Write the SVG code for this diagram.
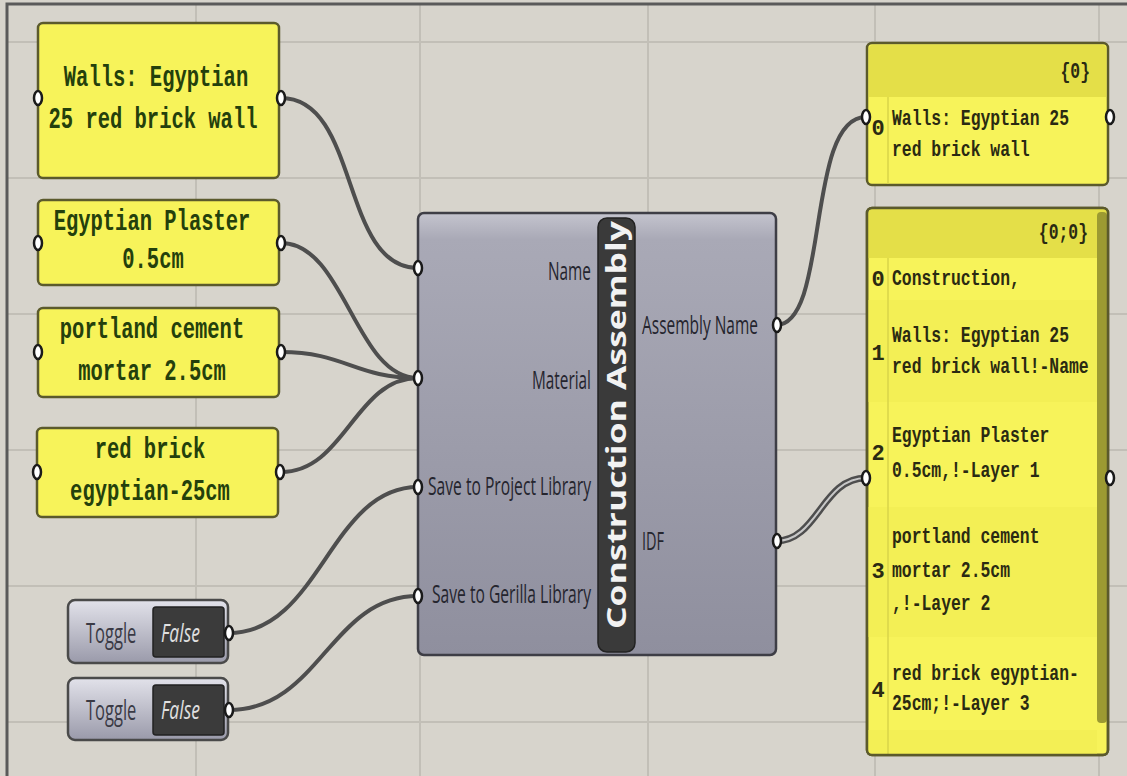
<svg xmlns="http://www.w3.org/2000/svg" width="1127" height="776" viewBox="0 0 1127 776">
<defs>
<linearGradient id="comp" x1="0" y1="0" x2="0" y2="1">
<stop offset="0" stop-color="#c4c4ce"/><stop offset="0.06" stop-color="#a9a9b6"/><stop offset="1" stop-color="#8f8f9e"/>
</linearGradient>
<linearGradient id="tog" x1="0" y1="0" x2="0" y2="1">
<stop offset="0" stop-color="#e2e2ea"/><stop offset="1" stop-color="#9a9aaa"/>
</linearGradient>
<clipPath id="p2clip"><rect x="868" y="209" width="240" height="546" rx="5"/></clipPath>
</defs>
<style>
.grid{stroke:#c2bfb7;stroke-width:2}
.panel{fill:#f7f35a;stroke:#5b5a2c;stroke-width:2.5}
.hdr{fill:#e4df48}
.ltxt{font-family:"Liberation Mono",monospace;font-weight:bold;font-size:20.5px;fill:#24400c;text-anchor:middle}
.rtxt{font-family:"Liberation Mono",monospace;font-weight:bold;font-size:16.4px;fill:#2a2a12}
.idx{font-family:"Liberation Mono",monospace;font-weight:bold;font-size:22px;fill:#2a2a12;text-anchor:middle}
.lbl{font-family:"Open Sans","Liberation Sans",sans-serif;font-size:25px;fill:#25252e}
.wire{fill:none;stroke:#4e4e4e;stroke-width:4;stroke-linecap:round}
.grip{fill:#ffffff;stroke:#1a1a1a;stroke-width:2.5}
.tglt{font-family:"Open Sans","Liberation Sans",sans-serif;font-size:16.5px;fill:#3a3a45}
.fls{font-family:"Open Sans","Liberation Sans",sans-serif;font-size:17.5px;font-style:italic;fill:#e0e0e0}
</style>
<rect x="0" y="0" width="1127" height="776" fill="#d7d4cc"/>
<g id="grid">
<line class="grid" x1="8" y1="42" x2="1127" y2="42"/>
<line class="grid" x1="8" y1="178" x2="1127" y2="178"/>
<line class="grid" x1="8" y1="314" x2="1127" y2="314"/>
<line class="grid" x1="8" y1="450" x2="1127" y2="450"/>
<line class="grid" x1="8" y1="586" x2="1127" y2="586"/>
<line class="grid" x1="8" y1="722" x2="1127" y2="722"/>
<line class="grid" x1="196" y1="5" x2="196" y2="776"/>
<line class="grid" x1="420" y1="5" x2="420" y2="776"/>
<line class="grid" x1="648" y1="5" x2="648" y2="776"/>
<line class="grid" x1="875" y1="5" x2="875" y2="776"/>
<line class="grid" x1="1099" y1="5" x2="1099" y2="776"/>
</g>
<path d="M7,776 V4 H1127" fill="none" stroke="#5a5a5a" stroke-width="3"/>

<g id="connectors">
<path class="wire" d="M281,98 C360,98 340,268 418,268"/>
<path class="wire" d="M281,243 C345,243 355,378 418,378"/>
<path class="wire" d="M281,352 C345,352 355,378 418,378"/>
<path class="wire" d="M281,472 C345,472 355,378 418,378"/>
<path class="wire" d="M229,633 C320,633 330,487 418,487"/>
<path class="wire" d="M229,710 C320,710 330,596 418,596"/>
<path class="wire" d="M776,325 C830,325 805,117 866,117"/>
<path d="M776,541 C818,541 822,478 866,478" fill="none" stroke="#4e4e4e" stroke-width="7"/>
<path d="M776,541 C818,541 822,478 866,478" fill="none" stroke="#c8c8c8" stroke-width="2"/>
</g>

<g id="panel-walls">
<rect class="panel" x="38" y="23" width="241" height="155" rx="5"/>
<text class="ltxt" transform="translate(156,86) scale(1,1.45)">Walls: Egyptian</text>
<text class="ltxt" transform="translate(153,128) scale(1,1.45)">25 red brick wall</text>
<ellipse class="grip" cx="38" cy="98" rx="4" ry="7"/>
<ellipse class="grip" cx="281" cy="98" rx="4" ry="7"/>
</g>
<g id="panel-plaster">
<rect class="panel" x="38" y="200" width="241" height="85" rx="5"/>
<text class="ltxt" transform="translate(152,230) scale(1,1.45)">Egyptian Plaster</text>
<text class="ltxt" transform="translate(153,268) scale(1,1.45)">0.5cm</text>
<ellipse class="grip" cx="38" cy="243" rx="4" ry="7"/>
<ellipse class="grip" cx="281" cy="243" rx="4" ry="7"/>
</g>
<g id="panel-portland">
<rect class="panel" x="38" y="308" width="241" height="89" rx="5"/>
<text class="ltxt" transform="translate(152,338) scale(1,1.45)">portland cement</text>
<text class="ltxt" transform="translate(152,380) scale(1,1.45)">mortar 2.5cm</text>
<ellipse class="grip" cx="38" cy="352" rx="4" ry="7"/>
<ellipse class="grip" cx="281" cy="352" rx="4" ry="7"/>
</g>
<g id="panel-redbrick">
<rect class="panel" x="37" y="428" width="241" height="89" rx="5"/>
<text class="ltxt" transform="translate(150,458) scale(1,1.45)">red brick</text>
<text class="ltxt" transform="translate(150,500) scale(1,1.45)">egyptian-25cm</text>
<ellipse class="grip" cx="37" cy="472" rx="4" ry="7"/>
<ellipse class="grip" cx="280" cy="472" rx="4" ry="7"/>
</g>

<g id="toggle-1">
<rect x="68" y="600" width="160" height="63" rx="7" fill="url(#tog)" stroke="#4a4a4a" stroke-width="2.5"/>
<rect x="153" y="607" width="71" height="50" rx="3" fill="#3b3b3b" stroke="#222" stroke-width="1.5"/>
<text class="tglt" transform="translate(86,643) scale(1,1.6)">Toggle</text>
<text class="fls" transform="translate(161,642) scale(1,1.45)">False</text>
<ellipse class="grip" cx="229" cy="633" rx="4" ry="7"/>
</g>
<g id="toggle-2">
<rect x="68" y="678" width="160" height="62" rx="7" fill="url(#tog)" stroke="#4a4a4a" stroke-width="2.5"/>
<rect x="153" y="685" width="71" height="50" rx="3" fill="#3b3b3b" stroke="#222" stroke-width="1.5"/>
<text class="tglt" transform="translate(86,720) scale(1,1.6)">Toggle</text>
<text class="fls" transform="translate(161,719) scale(1,1.45)">False</text>
<ellipse class="grip" cx="229" cy="710" rx="4" ry="7"/>
</g>

<g id="construction-assembly">
<rect x="418" y="213" width="358" height="442" rx="6" fill="url(#comp)" stroke="#3e3e46" stroke-width="2.5"/>
<rect x="598" y="218" width="37" height="434" rx="9" fill="#3a3a3a" stroke="#222" stroke-width="1.5"/>
<text x="0" y="0" transform="translate(626,425) rotate(-90)" text-anchor="middle" font-family="'Open Sans','Liberation Sans',sans-serif" font-weight="bold" font-size="26" fill="#f2f2f2" textLength="408" lengthAdjust="spacingAndGlyphs">Construction Assembly</text>
<text class="lbl" x="591" y="280" text-anchor="end" textLength="43" lengthAdjust="spacingAndGlyphs">Name</text>
<text class="lbl" x="591" y="389" text-anchor="end" textLength="59" lengthAdjust="spacingAndGlyphs">Material</text>
<text class="lbl" x="591" y="495" text-anchor="end" textLength="163" lengthAdjust="spacingAndGlyphs">Save to Project Library</text>
<text class="lbl" x="591" y="603" text-anchor="end" textLength="159" lengthAdjust="spacingAndGlyphs">Save to Gerilla Library</text>
<text class="lbl" x="642" y="334" textLength="116" lengthAdjust="spacingAndGlyphs">Assembly Name</text>
<text class="lbl" x="642" y="550" textLength="22" lengthAdjust="spacingAndGlyphs">IDF</text>
<ellipse class="grip" cx="418" cy="268" rx="4" ry="7"/>
<ellipse class="grip" cx="418" cy="378" rx="4" ry="7"/>
<ellipse class="grip" cx="418" cy="487" rx="4" ry="7"/>
<ellipse class="grip" cx="418" cy="596" rx="4" ry="7"/>
<ellipse class="grip" cx="777" cy="325" rx="4" ry="7"/>
<ellipse class="grip" cx="777" cy="541" rx="4" ry="7"/>
</g>

<g id="panel-assembly-name">
<rect class="panel" x="867" y="43" width="241" height="142" rx="5"/>
<path class="hdr" d="M869,97 V49 Q869,45 873,45 H1102 Q1106,45 1106,49 V97 Z"/>
<line x1="888" y1="97" x2="888" y2="184" stroke="#d9d44a" stroke-width="1.5"/>
<text class="rtxt" text-anchor="end" transform="translate(1090,78) scale(1,1.4)">{0}</text>
<text class="idx" x="878" y="135">0</text>
<text class="rtxt" transform="translate(892,125) scale(1,1.4)">Walls: Egyptian 25</text>
<text class="rtxt" transform="translate(892,156) scale(1,1.4)">red brick wall</text>
<ellipse class="grip" cx="866" cy="117" rx="4" ry="7"/>
<ellipse class="grip" cx="1110" cy="117" rx="4" ry="7"/>
</g>

<g id="panel-idf">
<rect class="panel" x="867" y="208" width="241" height="547" rx="5"/>
<g clip-path="url(#p2clip)">
<rect class="hdr" x="868" y="209" width="240" height="49"/>
<rect x="868" y="300" width="229" height="102" fill="#f3ef55"/>
<rect x="868" y="507" width="229" height="130" fill="#f3ef55"/>
<rect x="868" y="730" width="229" height="30" fill="#f3ef55"/>
<line x1="888" y1="258" x2="888" y2="755" stroke="#d9d44a" stroke-width="1.5"/>
<rect x="1097" y="212" width="10" height="511" rx="4" fill="#9c9a32"/>
<text class="idx" x="878" y="772">5</text>
</g>
<text class="rtxt" text-anchor="end" transform="translate(1088,239) scale(1,1.4)">{0;0}</text>
<text class="idx" x="878" y="286">0</text>
<text class="rtxt" transform="translate(892,285) scale(1,1.4)">Construction,</text>
<text class="idx" x="878" y="360">1</text>
<text class="rtxt" transform="translate(892,342) scale(1,1.4)">Walls: Egyptian 25</text>
<text class="rtxt" transform="translate(892,373) scale(1,1.4)">red brick wall!-Name</text>
<text class="idx" x="878" y="460">2</text>
<text class="rtxt" transform="translate(892,442) scale(1,1.4)">Egyptian Plaster</text>
<text class="rtxt" transform="translate(892,477) scale(1,1.4)">0.5cm,!-Layer 1</text>
<text class="idx" x="878" y="578">3</text>
<text class="rtxt" transform="translate(892,543) scale(1,1.4)">portland cement</text>
<text class="rtxt" transform="translate(892,577) scale(1,1.4)">mortar 2.5cm</text>
<text class="rtxt" transform="translate(892,610) scale(1,1.4)">,!-Layer 2</text>
<text class="idx" x="878" y="697">4</text>
<text class="rtxt" transform="translate(892,680) scale(1,1.4)">red brick egyptian-</text>
<text class="rtxt" transform="translate(892,710) scale(1,1.4)">25cm;!-Layer 3</text>
<rect x="867" y="208" width="241" height="547" rx="5" fill="none" stroke="#5b5a2c" stroke-width="2.5"/>
<ellipse class="grip" cx="866" cy="478" rx="4" ry="7"/>
<ellipse class="grip" cx="1110" cy="478" rx="4" ry="7"/>
</g>
</svg>
